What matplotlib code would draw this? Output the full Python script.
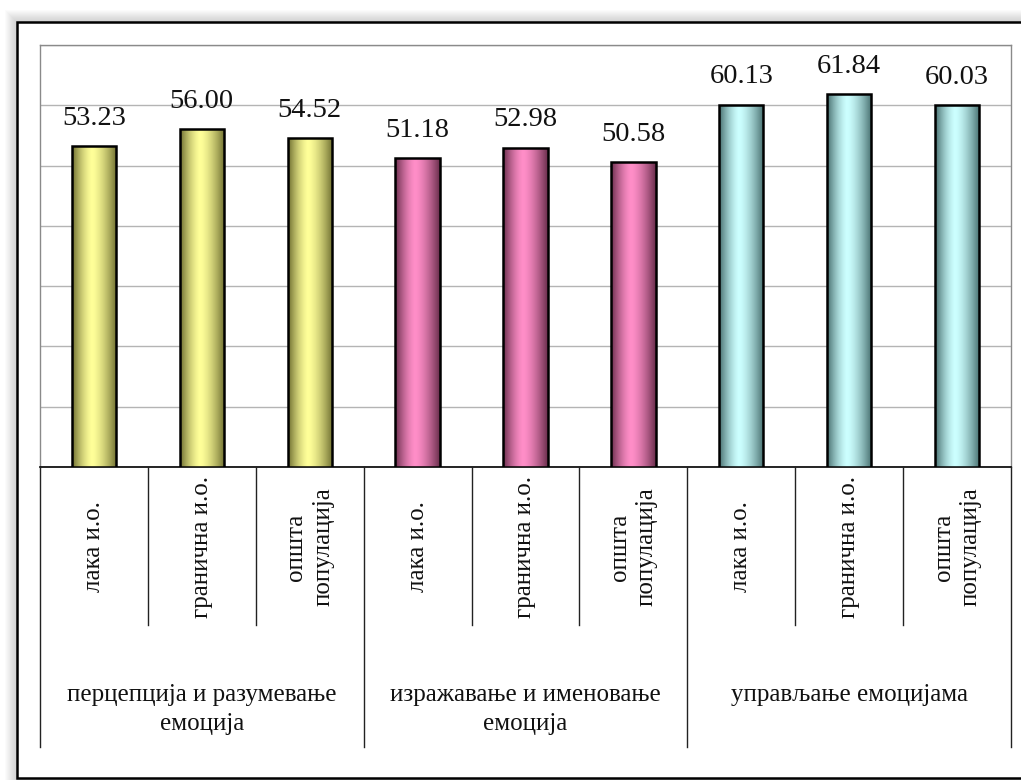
import matplotlib
matplotlib.use("Agg")
import matplotlib.pyplot as plt
import numpy as np
from matplotlib.colors import LinearSegmentedColormap
from matplotlib.patches import Rectangle

plt.rcParams["font.family"] = ["Liberation Serif", "DejaVu Serif"]

# ---------------------------------------------------------------------------
# Data
# ---------------------------------------------------------------------------
groups = [
    "перцепција и разумевање\nемоција",
    "изражавање и именовање\nемоција",
    "управљање емоцијама",
]
subgroups = ["лака и.о.", "гранична и.о.", "општа\nпопулација"]
values = [53.23, 56.00, 54.52, 51.18, 52.98, 50.58, 60.13, 61.84, 60.03]

# light / dark gradient ends per group
group_colors = [
    ("#ffff99", "#6e6e30"),
    ("#ff8ec8", "#6a2e4c"),
    ("#ccffff", "#466e6e"),
]

W, H = 1021, 781


def fx(px):
    return px / W


def fy(py):
    return 1 - py / H


fig = plt.figure(figsize=(W / 100, H / 100), dpi=100)
fig.patch.set_facecolor("white")

# soft shadow + outer frame
for k in range(12, 0, -1):
    fig.patches.append(Rectangle((fx(17 - k), fy(780)), fx(1100), fy(22 - k) - fy(780),
                                 transform=fig.transFigure, facecolor="#808080",
                                 edgecolor="none", alpha=0.03, zorder=0))
fig.patches.append(Rectangle((fx(17), fy(778)), fx(1100), fy(22) - fy(778),
                             transform=fig.transFigure, facecolor="white",
                             edgecolor="black", linewidth=1.8, zorder=1))

ax = fig.add_axes([fx(40), fy(467), fx(1011 - 40), fy(45) - fy(467)])
ax.set_facecolor("white")
ax.set_zorder(2)

x = np.arange(len(values))
ax.set_yticks(np.arange(0, 71, 10))
ax.grid(axis="y", color="#b4b4b4", linewidth=1.0, zorder=0)
ax.tick_params(axis="both", length=0, labelleft=False, labelbottom=False)
for side in ["left", "top", "right"]:
    ax.spines[side].set_color("#8a8a8a")
    ax.spines[side].set_linewidth(1.0)
ax.spines["bottom"].set_color("black")
ax.spines["bottom"].set_linewidth(1.2)

# gradient bars
t = np.linspace(0, 1, 200)
profile = 1 - np.abs((t - 0.45) / np.where(t < 0.45, 0.45, 0.55)) ** 1.5
grad = profile[np.newaxis, :]
bar_width = 0.41
bars = ax.bar(x, values, width=bar_width, facecolor="none", edgecolor="black",
              linewidth=1.8, zorder=4)
for i, (bar, v) in enumerate(zip(bars, values)):
    light, dark = group_colors[i // 3]
    cmap = LinearSegmentedColormap.from_list(f"g{i}", [dark, light])
    im = ax.imshow(grad, cmap=cmap, vmin=0, vmax=1, aspect="auto", zorder=3,
                   extent=[i - bar_width / 2, i + bar_width / 2, 0, v],
                   interpolation="bilinear")
    im.set_clip_path(bar)
    ax.annotate(f"{v:.2f}", (i, v), xytext=(0, 11), textcoords="offset points",
                ha="center", va="bottom", fontsize=20.5, color="#111111")
ax.set_xlim(-0.5, len(values) - 0.5)
ax.set_ylim(0, 70)

# category axis: labels and separators
tr = ax.get_xaxis_transform()
ax_h = 467 - 45
y_sub = -(625 - 467) / ax_h
y_grp = -(747 - 467) / ax_h
for i in range(len(values) + 1):
    xb = i - 0.5
    y_end = y_grp if i % 3 == 0 else y_sub
    ax.plot([xb, xb], [0, y_end], transform=tr, color="#222222", linewidth=1.0,
            clip_on=False, zorder=5)

for i in range(len(values)):
    ax.text(i, -(547 - 467) / ax_h, subgroups[i % 3], transform=tr, rotation=90,
            ha="center", va="center", multialignment="center", fontsize=18,
            linespacing=1.3, color="#111111")

for g, name in enumerate(groups):
    ax.text(3 * g + 1, -(684 - 467) / ax_h, name, transform=tr, ha="center",
            va="top", multialignment="center", fontsize=18, linespacing=1.4,
            color="#111111")

fig.savefig("out.png", dpi=100, facecolor=fig.get_facecolor())
